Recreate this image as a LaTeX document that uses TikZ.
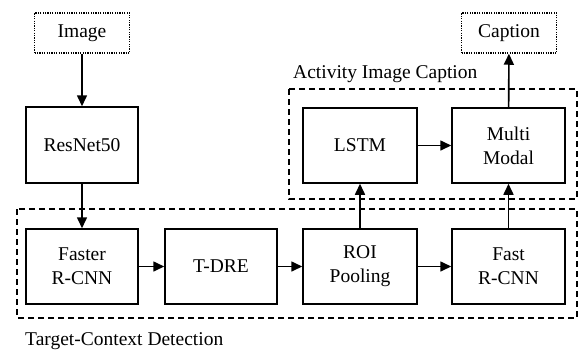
\documentclass[tikz,border=0pt]{standalone}
\usepackage{fontspec}
\setmainfont{Liberation Serif}
\usetikzlibrary{arrows.meta}
\begin{document}
\begin{tikzpicture}[x=1pt,y=-1pt,
  font=\fontsize{19.5}{24}\selectfont,
  blockbox/.style={draw, line width=1.5pt, minimum width=112pt, minimum height=75pt, align=center, inner sep=0pt},
  ioterm/.style={draw, dash pattern=on 1.2pt off 1.2pt, line width=1.5pt, minimum width=95pt, minimum height=40pt, inner sep=0pt},
  groupframe/.style={draw, line width=1.7pt, dash pattern=on 6pt off 4pt},
  flow/.style={-{Triangle[length=11pt,width=10pt]}, line width=1.6pt}]
\useasboundingbox (0,0) rectangle (579,354);

% dashed group frames
\draw[groupframe] (289,89) rectangle (577,199);
\draw[groupframe] (17,209) rectangle (577,318);
\node[anchor=base west, inner sep=0pt] (actlbl) at (293,78) {Activity Image Caption};
\node[anchor=base west, inner sep=0pt] (tgtlbl) at (25,345) {Target-Context Detection};

% terminals
\node[ioterm] (img) at (82,33) {Image};
\node[ioterm] (cap) at (509,33) {Caption};

% processing blocks
\node[blockbox, minimum height=76pt] (res) at (82,145) {ResNet50};
\node[blockbox] (frcnn) at (82,266.5) {Faster\\R-CNN};
\node[blockbox] (tdre) at (221,266.5) {T-DRE};
\node[blockbox, minimum width=114pt] (roi) at (360,266.5) {ROI\\Pooling};
\node[blockbox, minimum width=113pt] (fast) at (508.5,266.5) {Fast\\R-CNN};
\node[blockbox, minimum width=114pt] (lstm) at (360,145.5) {LSTM};
\node[blockbox, minimum width=113pt] (mm) at (508.5,145.5) {Multi\\Modal};

% connectors
\draw[flow] (img) -- (res);
\draw[flow] (res) -- (frcnn);
\draw[flow] (frcnn) -- (tdre);
\draw[flow] (tdre) -- (roi);
\draw[flow] (roi) -- (fast);
\draw[flow] (roi) -- (lstm);
\draw[flow] (fast) -- (mm);
\draw[flow] (lstm) -- (mm);
\draw[flow] (mm) -- (cap);
\end{tikzpicture}
\end{document}
